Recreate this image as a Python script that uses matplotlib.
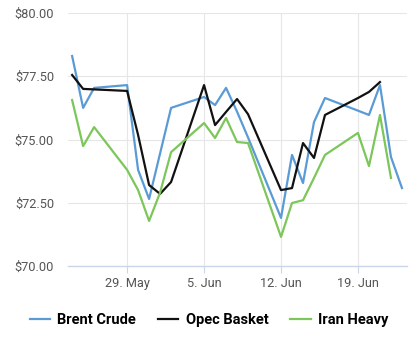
import datetime as dt
import matplotlib
matplotlib.use("Agg")
import matplotlib.pyplot as plt

plt.rcParams['font.family'] = ['Roboto', 'DejaVu Sans']

# trading days (weekdays) shown on the chart
dates = ['2017-05-24', '2017-05-25', '2017-05-26', '2017-05-29', '2017-05-30',
         '2017-05-31', '2017-06-01', '2017-06-02', '2017-06-05', '2017-06-06',
         '2017-06-07', '2017-06-08', '2017-06-09', '2017-06-12', '2017-06-13',
         '2017-06-14', '2017-06-15', '2017-06-16', '2017-06-19', '2017-06-20',
         '2017-06-21', '2017-06-22', '2017-06-23']
brent = [78.30, 76.25, 77.04, 77.15, 73.80, 72.65, 74.45, 76.25, 76.68, 76.36,
         77.04, 76.10, 75.08, 71.90, 74.39, 73.28, 75.69, 76.64, 76.14, 75.97,
         77.15, 74.31, 73.08]
opec = [77.55, 77.00, 76.98, 76.92, 75.18, 73.20, 72.85, 73.32, 77.15, 75.57,
        76.09, 76.60, 76.00, 73.00, 73.08, 74.86, 74.27, 75.97, 76.64, 76.88,
        77.27]
iran = [76.56, 74.74, 75.49, 73.80, 73.00, 71.78, 72.90, 74.50, 75.65, 75.06,
        75.85, 74.90, 74.86, 71.15, 72.49, 72.60, 73.48, 74.39, 75.26, 73.95,
        75.97, 73.48]

tick_dates = ['2017-05-29', '2017-06-05', '2017-06-12', '2017-06-19']
tick_labels = ['29. May', '5. Jun', '12. Jun', '19. Jun']
y_ticks = [70, 72.5, 75, 77.5, 80]

def to_dates(lst):
    return [dt.datetime.strptime(s, '%Y-%m-%d') for s in lst]

days = to_dates(dates)

fig = plt.figure(figsize=(4.18, 3.51), dpi=100)
ax = fig.add_axes([68 / 418, 1 - 266 / 351, (407 - 68) / 418, (266 - 13) / 351])

ax.plot(days, brent, color='#5b9bd5', lw=1.6, label='Brent Crude')
ax.plot(days[:len(opec)], opec, color='#111111', lw=1.6, label='Opec Basket')
ax.plot(days[:len(iran)], iran, color='#7cc65a', lw=1.6, label='Iran Heavy')

ax.set_ylim(70, 80)
ax.set_xlim(dt.datetime(2017, 5, 23, 15), dt.datetime(2017, 6, 23, 11))
ax.set_yticks(y_ticks)
ax.set_yticklabels(['$%.2f' % v for v in y_ticks])
ax.set_xticks(to_dates(tick_dates))
ax.set_xticklabels(tick_labels)

ax.grid(True, color='#e6e6e6', lw=0.8)
ax.set_axisbelow(True)
for s in ['top', 'right', 'left']:
    ax.spines[s].set_visible(False)
ax.spines['bottom'].set_color('#ccd6eb')
ax.spines['bottom'].set_linewidth(1.0)
ax.tick_params(axis='y', length=0, pad=10, labelsize=9.2, labelcolor='#555555')
ax.tick_params(axis='x', length=5, width=0.8, color='#ccd6eb', pad=3,
               labelsize=9.2, labelcolor='#555555')

leg = fig.legend(loc='center', bbox_to_anchor=(0.5, 1 - 320 / 351), ncol=3,
                 frameon=False, handlelength=1.4, columnspacing=1.5,
                 handletextpad=0.5, prop={'weight': 'bold', 'size': 10.5})

fig.savefig('out.png', dpi=100)
